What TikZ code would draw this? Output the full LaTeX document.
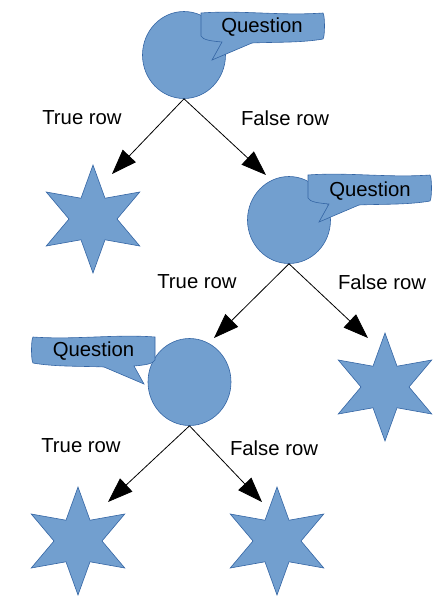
\documentclass[tikz,border=0pt]{standalone}
\usepackage{fontspec}
\setmainfont{Liberation Sans}
\usetikzlibrary{shapes.geometric,arrows.meta}
\definecolor{shapefill}{HTML}{729FCF}
\definecolor{shapeline}{HTML}{3465A4}
\tikzset{
	decision/.style={ellipse, draw=shapeline, fill=shapefill, line width=0.6pt, minimum width=83pt, minimum height=87pt, inner sep=0pt},
	leaf/.style={star, star points=6, star point ratio=2.25, draw=shapeline, fill=shapefill, line width=0.6pt, minimum size=108pt, inner sep=0pt},
	rowlabel/.style={font=\fontsize{20.3}{24}\selectfont, inner sep=0pt},
	branch/.style={-{Triangle[length=25pt,width=18pt]}, line width=0.8pt},
	pics/bubble/.style={code={
		\draw[draw=shapeline, fill=shapefill, line width=0.6pt]
			(0,0) .. controls (40,-3) and (80,3) .. (122,0)
			.. controls (124,2) and (124,24) .. (122,26)
			.. controls (100,30) and (70,29) .. (51,30)
			-- (11,47) -- (21,29)
			.. controls (10,28) and (2,27) .. (0,23) -- cycle;
	}}
}
\begin{document}
\begin{tikzpicture}[x=1pt, y=-1pt]
	\useasboundingbox (0,0) rectangle (447,603);
	% questions
	\node (q1) at (184,55) [decision] {};
	\node (q2) at (289,220) [decision] {};
	\node (q3) at (189.5,382) [decision] {};
	\pic at (201,13) {bubble};
	\pic at (308,175) {bubble};
	\pic[xscale=-1] at (155,337) {bubble};
	\node (b1) at (262,27) [rowlabel] {Question};
	\node (b2) at (370,191) [rowlabel] {Question};
	\node (b3) at (93.5,351) [rowlabel] {Question};
	% answers
	\node (s1) at (93,219) [leaf] {};
	\node (s2) at (385,387) [leaf] {};
	\node (s3) at (78,541) [leaf] {};
	\node (s4) at (277,541) [leaf] {};
	% arrow tips
	\coordinate (t1) at (112,174);
	\coordinate (t2) at (266,175);
	\coordinate (t3) at (214,338);
	\coordinate (t4) at (368,338);
	\coordinate (t5) at (108,502);
	\coordinate (t6) at (262,502);
	\draw[branch] (q1.south) -- (t1);
	\draw[branch] (q1.south) -- (t2);
	\draw[branch] (q2.south) -- (t3);
	\draw[branch] (q2.south) -- (t4);
	\draw[branch] (q3.south) -- (t5);
	\draw[branch] (q3.south) -- (t6);
	% labels
	\node (l1) at (82,118) [rowlabel] {True row};
	\node (l2) at (285,118) [rowlabel] {False row};
	\node (l3) at (197,282) [rowlabel] {True row};
	\node (l4) at (382,282) [rowlabel] {False row};
	\node (l5) at (81,446) [rowlabel] {True row};
	\node (l6) at (274,448) [rowlabel] {False row};
\end{tikzpicture}
\end{document}
